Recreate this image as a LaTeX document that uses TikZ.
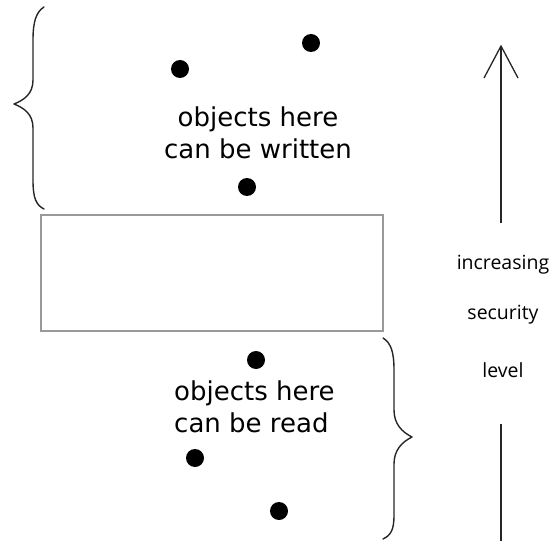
\documentclass[tikz,border=0pt]{standalone}
\usepackage{fontspec}
\setmainfont{DejaVu Sans}
\newfontfamily\sidefont{Open Sans}
\begin{document}
\begin{tikzpicture}[x=1pt,y=-1pt,
  dot/.style={circle,fill=black,inner sep=0pt,minimum size=18pt},
  brace/.style={line width=1.4pt,line cap=round,line join=round,black!85},
  boxst/.style={draw=black!40,line width=1.3pt},
  lbl/.style={font=\fontsize{26}{32}\selectfont,inner sep=0pt},
  side/.style={font=\sidefont\fontsize{19.5}{22}\selectfont,inner sep=0pt},
  arr/.style={line width=1.3pt,black!85}]
\useasboundingbox (0,0) rectangle (559,548);
% box
\draw[boxst] (41,215) rectangle (383,331);
\node (box) at (212,273) {};
% upper brace
\draw[brace] (44,7) .. controls (36,12) and (33,22) .. (33,40)
  -- (33,80) .. controls (33,94) and (24,100) .. (14,104)
  .. controls (24,108) and (33,114) .. (33,128)
  -- (33,180) .. controls (33,198) and (36,205) .. (44,209);
% lower brace
\draw[brace] (383,338) .. controls (391,343) and (394,352) .. (394,370)
  -- (394,410) .. controls (394,424) and (402,432) .. (412,437)
  .. controls (402,442) and (394,450) .. (394,464)
  -- (394,515) .. controls (394,530) and (391,535) .. (383,539);
% dots
\node[dot] (d1) at (311,43) {};
\node[dot] (d2) at (180,69) {};
\node[dot] (d3) at (247,187) {};
\node[dot] (d4) at (256,360) {};
\node[dot] (d5) at (195,458) {};
\node[dot] (d6) at (279,511) {};
% texts
\node[lbl,align=center] (tw) at (258,133) {objects here\\can be written};
\node[lbl,align=left,anchor=west] (tr) at (174,407) {objects here\\can be read};
\node[side] (s1) at (503,265) {increasing};
\node[side] (s2) at (503,315) {security};
\node[side] (s3) at (503,370) {level};
% arrow
\coordinate (atop) at (501,46);
\coordinate (amid) at (501,223);
\coordinate (alow) at (501,424);
\coordinate (abot) at (501,541);
\coordinate (hl) at (484,78);
\coordinate (hr) at (518,78);
\draw[arr] (amid) -- (atop);
\draw[arr,line join=miter] (hl) -- (atop) -- (hr);
\draw[arr] (alow) -- (abot);
\end{tikzpicture}
\end{document}
